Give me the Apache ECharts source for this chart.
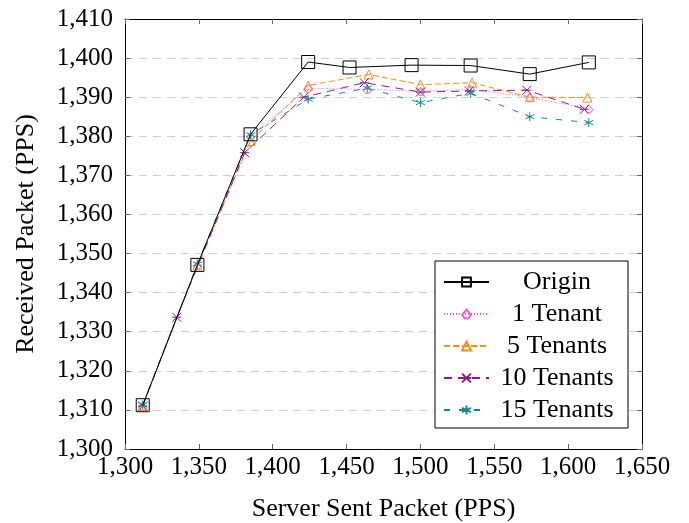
<!DOCTYPE html>
<html>
<head>
<meta charset="utf-8">
<script src="https://cdn.jsdelivr.net/npm/echarts@6/dist/echarts.min.js"></script>
<style>
  html, body { margin: 0; padding: 0; background: #fff; }
  #chart { width: 689px; height: 523px; }
</style>
</head>
<body>
<div id="chart"></div>
<script>
// values
var originX = [1312, 1349, 1385, 1424, 1452, 1494, 1534, 1574, 1614];
var originY = [1311.2, 1347.1, 1380.5, 1399.0, 1397.6, 1398.2, 1398.1, 1395.9, 1398.9];

var tenant1X = [1312, 1349, 1385, 1424, 1464, 1500, 1534, 1574, 1614];
var tenant1Y = [1311.0, 1347.0, 1380.0, 1392.3, 1392.0, 1391.5, 1392.0, 1390.0, 1387.0];

var tenant5X = [1312, 1349, 1385, 1424, 1465, 1500, 1535, 1574, 1613];
var tenant5Y = [1311.0, 1347.0, 1378.8, 1393.0, 1395.8, 1393.2, 1393.7, 1390.0, 1389.9];

var tenant10X = [1312, 1335, 1381, 1421, 1462, 1500, 1533, 1572, 1611];
var tenant10Y = [1311.0, 1333.7, 1375.8, 1390.0, 1393.7, 1391.3, 1391.6, 1391.8, 1386.9];

var tenant15X = [1312, 1349, 1385, 1424, 1464, 1500, 1534, 1574, 1614];
var tenant15Y = [1311.3, 1347.3, 1380.4, 1389.5, 1392.3, 1388.6, 1391.0, 1385.0, 1383.5];

var seriesNames = ['Origin', '1 Tenant', '5 Tenants', '10 Tenants', '15 Tenants'];

function pairs(xs, ys) {
    var out = [];
    for (var i = 0; i < xs.length; i++) out.push([xs[i], ys[i]]);
    return out;
}

var font = 'Liberation Serif';
var fmt = function (v) { return v.toLocaleString('en-US'); };

function mkSeries(name, data, color, dash, symbol, size) {
    return {
        name: name,
        type: 'line',
        data: data,
        symbol: symbol,
        symbolSize: size,
        showAllSymbol: true,
        lineStyle: { color: color, width: 1, type: dash },
        itemStyle: { color: 'rgba(0,0,0,0)', borderColor: color, borderWidth: 1 },
        emphasis: { disabled: true },
        z: 3
    };
}

var chart = echarts.init(document.getElementById('chart'));
var option = {
    animation: false,
    grid: { left: 125, right: 47, top: 19, bottom: 74, outerBoundsMode: 'none' },
    legend: {
        data: seriesNames,
        orient: 'vertical',
        left: 435,
        top: 261,
        padding: [8, 8, 5, 8],
        itemGap: 6,
        itemWidth: 45,
        itemHeight: 11,
        backgroundColor: '#fff',
        borderColor: '#000',
        borderWidth: 1,
        borderRadius: 0,
        formatter: function (name) { return '{c|' + name + '}'; },
        textStyle: {
            rich: {
                c: { width: 126, align: 'center', fontFamily: font, fontSize: 26, lineHeight: 26, color: '#000' }
            }
        }
    },
    xAxis: [{
        type: 'value',
        min: 1300, max: 1650, interval: 50,
        name: 'Server Sent Packet (PPS)',
        nameLocation: 'middle',
        nameGap: 47,
        nameTextStyle: { fontFamily: font, fontSize: 26, color: '#000' },
        axisLine: { show: true, lineStyle: { color: '#000', width: 1 } },
        axisTick: { inside: true, length: 5, lineStyle: { color: '#666' } },
        axisLabel: { fontFamily: font, fontSize: 25, color: '#000', margin: 6, formatter: fmt },
        splitLine: { show: false }
    }, {
        type: 'value', position: 'top',
        min: 1300, max: 1650, interval: 50,
        axisLine: { show: true, lineStyle: { color: '#000', width: 1 } },
        axisTick: { inside: true, length: 5, lineStyle: { color: '#666' } },
        axisLabel: { show: false },
        splitLine: { show: false }
    }],
    yAxis: [{
        type: 'value',
        min: 1300, max: 1410, interval: 10,
        name: 'Received Packet (PPS)',
        nameLocation: 'middle',
        nameGap: 86,
        nameTextStyle: { fontFamily: font, fontSize: 26, color: '#000' },
        axisLine: { show: true, lineStyle: { color: '#000', width: 1 } },
        axisTick: { inside: true, length: 5, lineStyle: { color: '#666' } },
        axisLabel: { fontFamily: font, fontSize: 25, color: '#000', margin: 12, formatter: fmt },
        splitLine: { show: true, lineStyle: { color: '#cfcfcf', width: 1, type: [8, 6] } }
    }, {
        type: 'value', position: 'right',
        min: 1300, max: 1410, interval: 10,
        axisLine: { show: true, lineStyle: { color: '#000', width: 1 } },
        axisTick: { inside: true, length: 5, lineStyle: { color: '#666' } },
        axisLabel: { show: false },
        splitLine: { show: false }
    }],
    series: [
        mkSeries('Origin', pairs(originX, originY), '#000', 'solid', 'rect', 13),
        mkSeries('1 Tenant', pairs(tenant1X, tenant1Y), '#f35bd0', [1, 2], 'path://M5,0L10,6L7,10L3,10L0,6Z', 8),
        mkSeries('5 Tenants', pairs(tenant5X, tenant5Y), '#ff8c1a', [6, 3], 'path://M0,10L10,10L5,0Z', 9),
        mkSeries('10 Tenants', pairs(tenant10X, tenant10Y), '#8e1a8e', [8, 6], 'path://M0,0L10,10M10,0L0,10M0,5L10,5', 9),
        mkSeries('15 Tenants', pairs(tenant15X, tenant15Y), '#138a8a', [6, 9], 'path://M5,0L5,10M0.7,2.5L9.3,7.5M0.7,7.5L9.3,2.5', 9)
    ]
};
// draw Origin on top of the others
option.series[0].z = 4;
chart.setOption(option);
</script>
</body>
</html>
